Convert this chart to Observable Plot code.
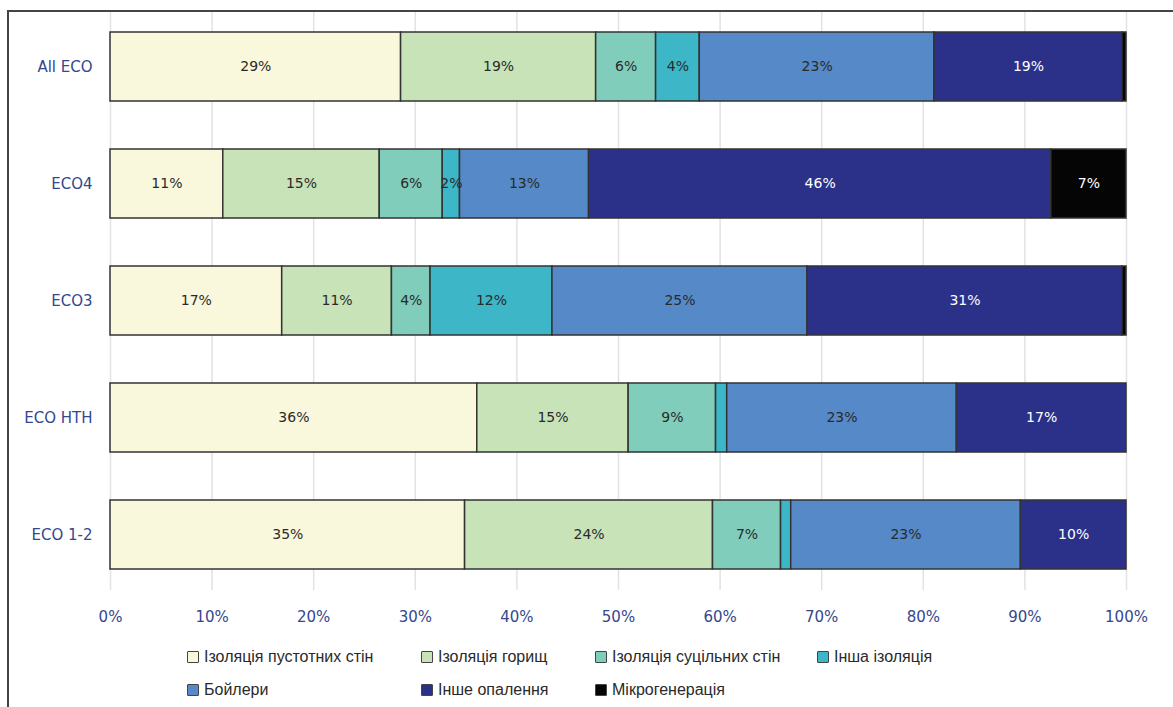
<!DOCTYPE html>
<html>
<head>
<meta charset="utf-8">
<script src="https://cdn.jsdelivr.net/npm/d3@7"></script>
<script src="https://cdn.jsdelivr.net/npm/@observablehq/plot@0.6"></script>
<style>
  html, body { margin: 0; padding: 0; background: #fff; }
  #wrap { position: relative; width: 1173px; height: 707px; overflow: hidden; }
  #frame { position: absolute; left: 7px; top: 10px; width: 1200px; height: 720px;
           border-left: 2px solid #444; border-top: 2px solid #444; z-index: 5; pointer-events: none; }
  #chart { position: absolute; left: 0; top: 0; }
  .leg { position: absolute; display: flex; align-items: center; font-family: "Liberation Sans", Arial, sans-serif;
         font-size: 16px; color: #2a2a2a; white-space: nowrap; transform: translateY(-50%); }
  .sw { width: 10px; height: 10px; border: 1.5px solid #444; margin-right: 5px; border-radius: 1px; }
</style>
</head>
<body>
<div id="wrap">
  <div id="chart"></div>
  <div id="frame"></div>
</div>
<script>
const categories = ["All ECO", "ECO4", "ECO3", "ECO HTH", "ECO 1-2"];
const seriesNames = ["Ізоляція пустотних стін", "Ізоляція горищ", "Ізоляція суцільних стін", "Інша ізоляція", "Бойлери", "Інше опалення", "Мікрогенерація"];
const seriesColors = ["#f9f7dc", "#c8e3b7", "#80cdbb", "#3db6c7", "#5689c8", "#2b3189", "#050505"];
const darkSeries = ["Інше опалення", "Мікрогенерація"];
// values per series, in category order (percent)
const cavityWall = [28.6, 11.1, 16.9, 36.1, 34.9];
const loft       = [19.2, 15.4, 10.8, 14.9, 24.4];
const solidWall  = [5.9, 6.2, 3.8, 8.6, 6.7];
const otherInsul = [4.3, 1.7, 12.0, 1.1, 1.0];
const boilers    = [23.1, 12.7, 25.1, 22.6, 22.6];
const otherHeat  = [18.5, 45.5, 31.0, 16.7, 10.4];
const microgen   = [0.4, 7.4, 0.4, 0, 0];
const xTicks = [0, 10, 20, 30, 40, 50, 60, 70, 80, 90, 100];

const seriesValues = [cavityWall, loft, solidWall, otherInsul, boilers, otherHeat, microgen];
const data = [];
categories.forEach((c, ci) => {
  seriesNames.forEach((s, si) => {
    const v = seriesValues[si][ci];
    if (v > 0) data.push({cat: c, series: s, value: v});
  });
});

const axisColor = "#34478f";
const plot = Plot.plot({
  width: 1173,
  height: 640,
  marginLeft: 110,
  marginRight: 47,
  marginTop: 12,
  marginBottom: 50,
  style: {fontFamily: "'DejaVu Sans', Verdana, sans-serif", background: "transparent"},
  x: {domain: [0, 100]},
  y: {domain: categories, paddingInner: 0.41, paddingOuter: 0.175},
  color: {domain: seriesNames, range: seriesColors},
  marks: [
    Plot.ruleX(xTicks, {stroke: "#e2e2e2", strokeWidth: 1.5}),
    Plot.barX(data, Plot.stackX({x: "value", y: "cat", fill: "series", stroke: "#333", strokeWidth: 1.5})),
    Plot.text(data, Plot.stackX({x: "value", y: "cat",
      text: d => (d.value >= 1.5 && !darkSeries.includes(d.series)) ? Math.round(d.value) + "%" : "",
      fill: "#2a2a2a", fontSize: 14})),
    Plot.text(data, Plot.stackX({x: "value", y: "cat",
      text: d => (d.value >= 1.5 && darkSeries.includes(d.series)) ? Math.round(d.value) + "%" : "",
      fill: "white", fontSize: 14})),
    Plot.axisX({ticks: xTicks, tickFormat: d => d + "%", tickSize: 0, tickPadding: 21, fontSize: 15, fill: axisColor, label: null}),
    Plot.axisY({tickSize: 0, tickPadding: 18, fontSize: 15, fill: axisColor, label: null})
  ]
});
document.getElementById("chart").appendChild(plot);

// legend
const legendPos = [
  [187, 657], [421, 657], [595, 657], [817, 657],
  [187, 690], [421, 690], [595, 690]
];
const wrap = document.getElementById("wrap");
seriesNames.forEach((s, i) => {
  const el = document.createElement("div");
  el.className = "leg";
  el.style.left = legendPos[i][0] + "px";
  el.style.top = legendPos[i][1] + "px";
  const sw = document.createElement("span");
  sw.className = "sw";
  sw.style.background = seriesColors[i];
  const tx = document.createElement("span");
  tx.textContent = s;
  el.appendChild(sw);
  el.appendChild(tx);
  wrap.appendChild(el);
});
</script>
</body>
</html>
